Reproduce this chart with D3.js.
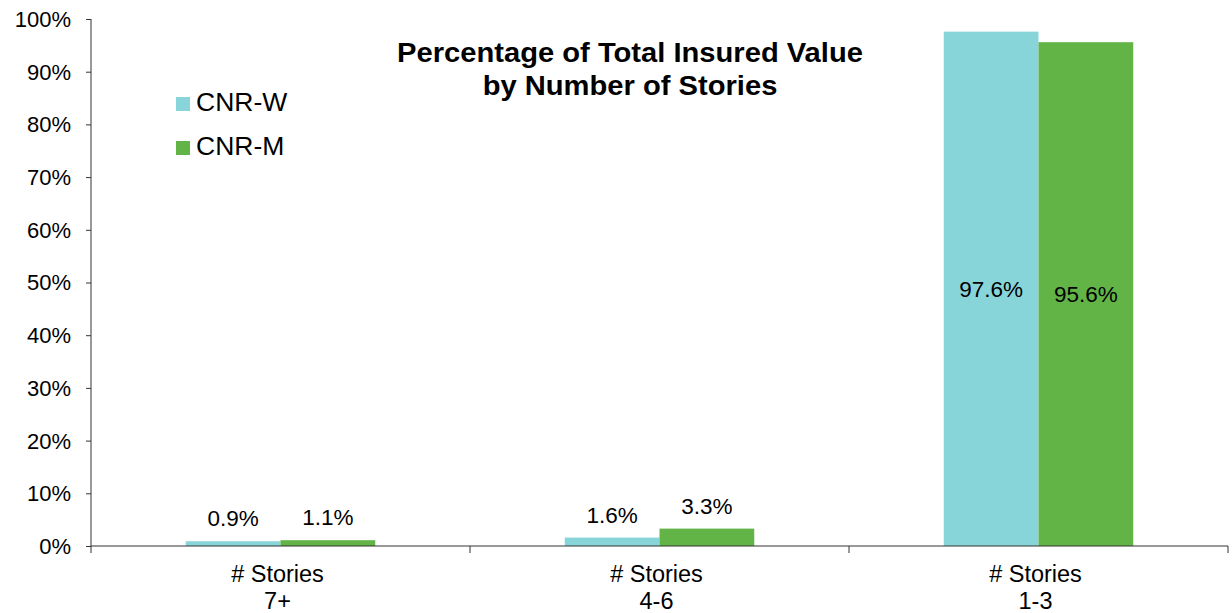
<!DOCTYPE html>
<html>
<head>
<meta charset="utf-8">
<script src="https://cdn.jsdelivr.net/npm/d3@7"></script>
<style>
  html, body { margin: 0; padding: 0; background: #fff; }
  text { font-family: Arial, "Liberation Sans", Helvetica, sans-serif; fill: #000; }
</style>
</head>
<body>
<svg id="chart" width="1232" height="613"></svg>
<script>
// ---- Data ----
const categories = ["# Stories\n7+", "# Stories\n4-6", "# Stories\n1-3"];
const seriesNames = ["CNR-W", "CNR-M"];
const cnrW = [0.9, 1.6, 97.6];
const cnrM = [1.1, 3.3, 95.6];
const yTicks = [0, 10, 20, 30, 40, 50, 60, 70, 80, 90, 100];
const titleLines = ["Percentage of Total Insured Value", "by Number of Stories"];
const colors = ["#87D5D9", "#62B446"];

const series = [cnrW, cnrM];

(function () {
// ---- Layout ----
const svg = d3.select("#chart");
const pLeft = 91, pRight = 1228, pTop = 19, pBottom = 546;

const x = d3.scaleBand().domain(categories).range([pLeft, pRight])
  .paddingInner(0.5).paddingOuter(0.25);
const xs = d3.scaleBand().domain(seriesNames).range([0, x.bandwidth()]);
const y = d3.scaleLinear().domain([0, 100]).range([pBottom, pTop]);

// Bars
categories.forEach((c, i) => {
  seriesNames.forEach((s, j) => {
    const v = series[j][i];
    svg.append("rect")
      .attr("x", x(c) + xs(s))
      .attr("y", y(v))
      .attr("width", xs.bandwidth())
      .attr("height", y(0) - y(v))
      .attr("fill", colors[j]);
  });
});

// Data labels
categories.forEach((c, i) => {
  seriesNames.forEach((s, j) => {
    const v = series[j][i];
    const cx = x(c) + xs(s) + xs.bandwidth() / 2;
    const inside = (y(0) - y(v)) > 60;
    const ty = inside ? (y(v) + y(0)) / 2 + 8 : y(v) - 15;
    svg.append("text")
      .attr("x", cx).attr("y", ty)
      .attr("text-anchor", "middle")
      .attr("font-size", 22.5)
      .text(v.toFixed(1) + "%");
  });
});

// Y axis
const yAxis = d3.axisLeft(y).tickValues(yTicks).tickSize(5).tickPadding(15)
  .tickFormat(d => d + "%");
const gy = svg.append("g").attr("transform", `translate(${pLeft},0)`).call(yAxis);
gy.select(".domain").remove();
gy.selectAll(".tick line").attr("stroke", "#333");
gy.selectAll(".tick text").attr("font-size", 22).attr("fill", "#000")
  .attr("font-family", "Arial, 'Liberation Sans', sans-serif")
  .attr("dy", "0.34em");
svg.append("line").attr("x1", pLeft).attr("x2", pLeft)
  .attr("y1", pTop).attr("y2", pBottom + 7).attr("stroke", "#333");

// X axis
svg.append("line").attr("x1", pLeft).attr("x2", pRight)
  .attr("y1", pBottom).attr("y2", pBottom).attr("stroke", "#333");
const step = x.step();
categories.forEach((c, i) => {
  const bx = x(c) + x.bandwidth() + step * x.paddingInner() / 2;
  svg.append("line").attr("x1", bx).attr("x2", bx)
    .attr("y1", pBottom).attr("y2", pBottom + 7).attr("stroke", "#333");
  const cx = x(c) + x.bandwidth() / 2 - 3;
  const lines = c.split("\n");
  lines.forEach((ln, k) => {
    svg.append("text").attr("x", cx).attr("y", 582 + k * 27)
      .attr("text-anchor", "middle").attr("font-size", 23.5).text(ln);
  });
});

// Title
titleLines.forEach((t, k) => {
  svg.append("text")
    .attr("transform", `translate(630,${62 + k * 33}) scale(1.06,1)`)
    .attr("text-anchor", "middle").attr("font-size", 27.5)
    .attr("font-weight", "bold").text(t);
});

// Legend
seriesNames.forEach((s, j) => {
  const ly = 111 + j * 44;
  svg.append("rect").attr("x", 176).attr("y", ly - 14)
    .attr("width", 14).attr("height", 14).attr("fill", colors[j]);
  svg.append("text").attr("x", 196).attr("y", ly)
    .attr("font-size", 26.5).text(s);
});
})();
</script>
</body>
</html>
